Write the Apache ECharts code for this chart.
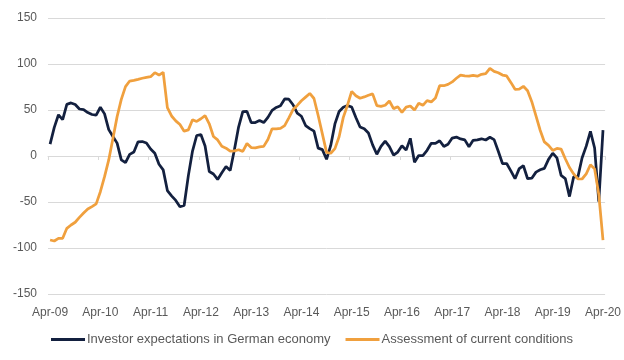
<!DOCTYPE html>
<html>
<head>
<meta charset="utf-8">
<script src="https://cdn.jsdelivr.net/npm/echarts@6/dist/echarts.min.js"></script>
<style>html,body{margin:0;padding:0;background:#fff;}#c{width:624px;height:360px;}</style>
</head>
<body>
<div id="c"></div>
<script>
// Monthly categories Apr-09 .. Apr-20
const monthNames = ['Jan','Feb','Mar','Apr','May','Jun','Jul','Aug','Sep','Oct','Nov','Dec'];
const categories = [];
for (let y = 2009, m = 3; y < 2020 || (y === 2020 && m <= 3); ) {
  categories.push(monthNames[m] + '-' + String(y).slice(2));
  m++; if (m > 11) { m = 0; y++; }
}

const seriesNames = ['Investor expectations in German economy', 'Assessment of current conditions'];

const expectations = [
  13.0, 31.1, 44.8, 39.5, 56.1, 57.7, 56.0, 51.1, 50.4,
  47.2, 45.1, 44.5, 53.0, 45.8, 28.7, 21.2, 14.0, -4.3, -7.2, 1.8, 4.3,
  15.4, 15.7, 14.1, 7.6, 3.1, -9.0, -15.1, -37.6, -43.3, -48.3, -55.2, -53.8,
  -21.6, 5.4, 22.3, 23.4, 10.8, -16.9, -19.6, -25.5, -18.2, -11.5, -15.7, 6.9,
  31.5, 48.2, 48.5, 36.3, 36.4, 38.5, 36.3, 42.0, 49.6, 52.8, 54.6, 62.0,
  61.7, 55.7, 46.6, 43.2, 33.1, 29.8, 27.1, 8.6, 6.9, -3.6, 11.5, 34.9,
  48.4, 53.0, 54.8, 53.3, 41.9, 31.5, 29.7, 25.0, 12.1, 1.9, 10.4, 16.1,
  10.2, 1.0, 4.3, 11.2, 6.4, 19.2, -6.8, 0.5, 0.5, 6.2, 13.8, 13.8,
  16.6, 10.4, 12.8, 19.5, 20.6, 18.6, 17.5, 10.0, 17.0, 17.6, 18.7, 17.4,
  20.4, 17.8, 5.1, -8.2, -8.2, -16.1, -24.7, -13.7, -10.6, -24.7, -24.1, -17.5,
  -15.0, -13.4, -3.6, 3.1, -2.1, -21.1, -24.5, -44.1, -22.5, -22.8, -2.1, 10.7,
  26.7, 8.7, -49.5, 28.2
];

const currentConditions = [
  -91.3, -92.4, -89.5, -89.5, -78.6, -75.0, -72.0, -66.7, -62.0,
  -57.6, -55.0, -52.0, -38.8, -22.5, -4.3, 19.0, 42.8, 61.6, 75.4, 81.5, 82.2,
  83.3, 84.5, 85.5, 86.2, 90.6, 88.0, 91.0, 52.5, 43.5, 38.2, 34.2, 27.0,
  28.4, 39.5, 37.6, 40.5, 43.8, 35.0, 21.2, 17.5, 10.5, 8.5, 5.2, 5.5,
  6.8, 5.0, 13.6, 9.2, 8.9, 10.0, 10.5, 18.0, 29.5, 29.5, 30.0, 33.0,
  41.5, 50.5, 55.0, 60.0, 64.0, 68.0, 62.5, 44.0, 24.0, 4.0, 3.0, 8.0,
  21.0, 42.0, 55.2, 70.2, 65.5, 62.8, 64.2, 66.0, 67.5, 54.8, 54.0, 55.2,
  59.8, 51.5, 53.5, 47.4, 53.1, 54.4, 49.9, 57.4, 55.1, 60.2, 58.8, 63.0,
  76.4, 76.4, 77.8, 80.5, 84.5, 88.0, 87.2, 86.8, 87.7, 86.8, 88.8, 89.5,
  95.2, 92.0, 90.5, 88.0, 87.0, 80.0, 72.5, 72.6, 75.8, 71.0, 59.0, 43.5,
  28.0, 15.3, 11.5, 6.0, 8.2, 7.5, -3.0, -12.5, -19.5, -24.8, -25.0, -19.5,
  -9.5, -14.0, -42.0, -91.5
];

const yTicks = { min: -150, max: 150, interval: 50 };

const font = '"Liberation Sans", Arial, sans-serif';
const textColor = '#595959';
const gridColor = '#d9d9d9';

const chart = echarts.init(document.getElementById('c'), null, { renderer: 'canvas' });
chart.setOption({
  animation: false,
  backgroundColor: '#ffffff',
  grid: { left: 48, right: 18, top: 18, bottom: 66, containLabel: false },
  legend: {
    data: seriesNames,
    left: 'center',
    top: 328,
    icon: 'rect',
    itemWidth: 34,
    itemHeight: 3,
    itemGap: 15,
    textStyle: { color: textColor, fontSize: 13, fontFamily: font, padding: [0, 0, 0, -3] }
  },
  xAxis: [
    {
      type: 'category',
      data: categories,
      boundaryGap: true,
      position: 'bottom',
      axisLine: { show: false, onZero: false },
      axisTick: { show: false },
      splitLine: { show: false },
      axisLabel: { interval: 11, color: textColor, fontSize: 12, fontFamily: font, margin: 13 }
    },
    {
      type: 'category',
      data: categories,
      boundaryGap: true,
      position: 'bottom',
      axisLine: { show: true, onZero: true, lineStyle: { color: gridColor, width: 1 } },
      axisTick: { show: true, interval: 11, length: 4, lineStyle: { color: gridColor } },
      axisLabel: { show: false },
      splitLine: { show: false }
    }
  ],
  yAxis: {
    type: 'value',
    min: yTicks.min,
    max: yTicks.max,
    interval: yTicks.interval,
    axisLine: { show: false },
    axisTick: { show: false },
    splitLine: { show: true, lineStyle: { color: gridColor, width: 1 } },
    axisLabel: { color: textColor, fontSize: 12, fontFamily: font, margin: 11 }
  },
  series: [
    {
      name: seriesNames[0],
      type: 'line',
      xAxisIndex: 0,
      data: expectations,
      symbol: 'none',
      lineStyle: { color: '#13203f', width: 2.75 },
      itemStyle: { color: '#13203f' }
    },
    {
      name: seriesNames[1],
      type: 'line',
      xAxisIndex: 0,
      data: currentConditions,
      symbol: 'none',
      lineStyle: { color: '#f0a03e', width: 2.75 },
      itemStyle: { color: '#f0a03e' }
    }
  ]
});
</script>
</body>
</html>
